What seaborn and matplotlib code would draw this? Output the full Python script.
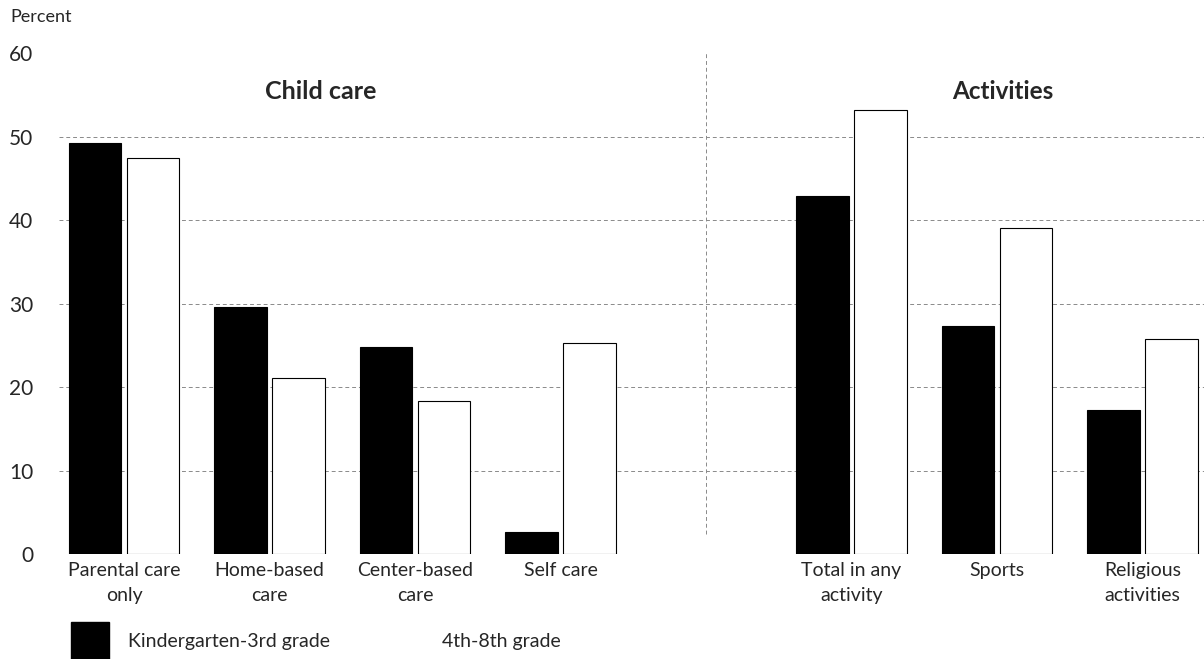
import pandas as pd
import matplotlib.pyplot as plt
import matplotlib.patches as mpatches
import seaborn as sns

# Values
categories = ["Parental care\nonly", "Home-based\ncare", "Center-based\ncare", "Self care",
              "Total in any\nactivity", "Sports", "Religious\nactivities"]
k3_values = [49.2, 29.6, 24.8, 2.6, 42.9, 27.3, 17.2]
g48_values = [47.4, 21.1, 18.3, 25.3, 53.2, 39.0, 25.7]
grades = ["Kindergarten-3rd grade", "4th-8th grade"]
y_ticks = [0, 10, 20, 30, 40, 50, 60]
grid_levels = [10, 20, 30, 40, 50]

df = pd.DataFrame({
    "Category": categories * 2,
    "Percent": k3_values + g48_values,
    "Grade": [grades[0]] * len(categories) + [grades[1]] * len(categories),
})
# empty slot between the two panels
order = categories[:4] + [" "] + categories[4:]

sns.set_style("white")
plt.rcParams['font.family'] = ['Lato', 'DejaVu Sans']

fig = plt.figure(figsize=(12.04, 6.59), dpi=100)
ax = fig.add_axes([0.0486, 0.1593, 0.951, 0.760])

sns.barplot(data=df, x="Category", y="Percent", hue="Grade", order=order,
            hue_order=grades, palette={grades[0]: "black", grades[1]: "white"},
            edgecolor="black", linewidth=0.8, width=0.8, gap=0.1,
            legend=False, ax=ax, zorder=2)

for lvl in grid_levels:
    ax.axhline(lvl, color="#8a8a8a", linewidth=0.7, linestyle=(0, (4, 3)), zorder=0.5)
ax.axvline(4, ymin=0.04, ymax=1.0, color="#8a8a8a", linewidth=0.7,
           linestyle=(0, (4, 3)), zorder=0.5)

ax.set_xlim(-0.45, 7.42)
ax.set_ylim(0, 60)
ax.set_yticks(y_ticks)
ax.set_xlabel("")
ax.set_ylabel("")
for s in ax.spines.values():
    s.set_visible(False)
ax.tick_params(axis="y", length=0, labelsize=15, pad=18)
ax.tick_params(axis="x", length=0, labelsize=14, pad=6)
for lab in ax.get_xticklabels():
    lab.set_linespacing(1.55)

ax.text(1.35, 55.4, "Child care", ha="center", va="center", fontsize=18, fontweight="bold")
ax.text(6.04, 55.4, "Activities", ha="center", va="center", fontsize=17.5, fontweight="bold")

fig.text(10 / 1204, 1 - 17 / 659, "Percent", ha="left", va="center", fontsize=13)

# legend along the bottom edge
fig.add_artist(mpatches.Rectangle((71 / 1204, 0), 38 / 1204, 37 / 659,
                                  transform=fig.transFigure, color="black"))
fig.text(128 / 1204, 1 - 641 / 659, grades[0], ha="left", va="center", fontsize=14)
fig.text(442 / 1204, 1 - 641 / 659, grades[1], ha="left", va="center", fontsize=14)

fig.savefig("out.png", dpi=100)
